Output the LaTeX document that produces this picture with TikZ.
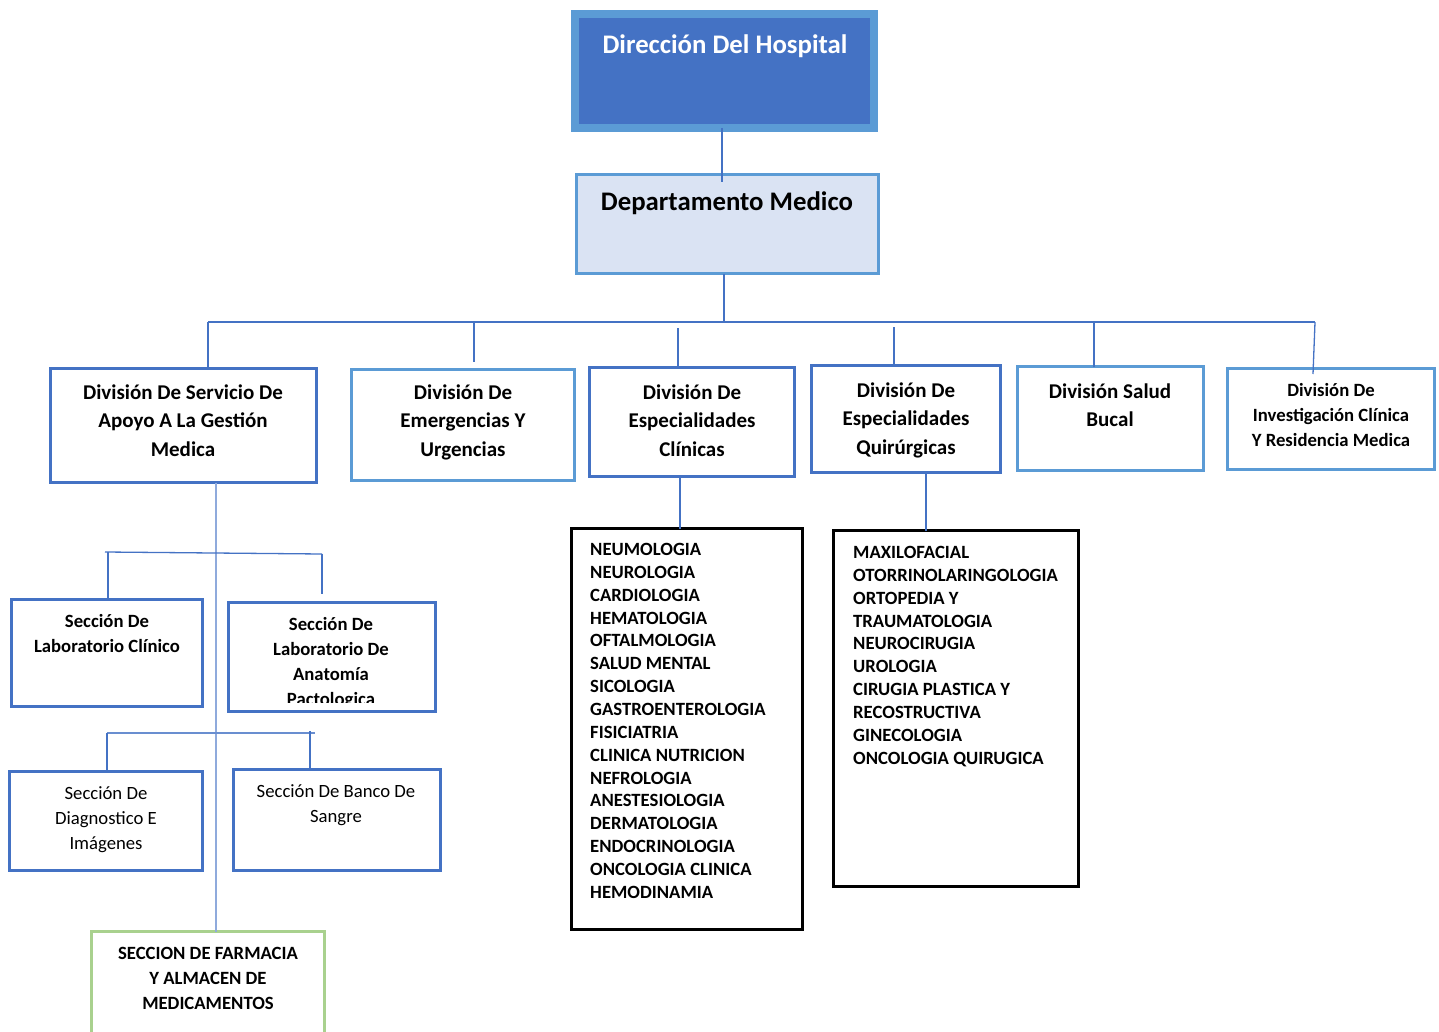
\documentclass[tikz,border=0pt]{standalone}
\usepackage{fontspec}
\setmainfont{Carlito}
\definecolor{darkblue}{HTML}{4472C4}
\definecolor{lightblue}{HTML}{5B9BD5}
\definecolor{paleblue}{HTML}{DAE3F3}
\definecolor{softblue}{HTML}{8FAADC}
\definecolor{leafgreen}{HTML}{A9D18E}
\tikzset{
  dbox/.style={draw=darkblue, line width=2.5pt, inner sep=0pt, outer sep=0pt, anchor=north west},
  lbox/.style={dbox, draw=lightblue},
  gbox/.style={dbox, draw=leafgreen},
  listbox/.style={dbox, draw=black},
  divtext/.style={anchor=north, align=center, inner sep=0pt,
    font=\bfseries\fontsize{21}{28.5}\selectfont},
  sectext/.style={anchor=north, align=center, inner sep=0pt,
    font=\bfseries\fontsize{18.7}{25}\selectfont},
  regtext/.style={sectext, font=\fontsize{18.7}{25}\selectfont},
  listtext/.style={anchor=north west, align=left, inner sep=0pt,
    font=\bfseries\fontsize{18.7}{22.85}\selectfont},
  conn/.style={draw=darkblue, line width=1.3pt},
}
\begin{document}
\begin{tikzpicture}[x=1pt, y=-1pt]
\useasboundingbox (0,0) rectangle (1439,1032);

% top of the chart
\node[dbox, draw=lightblue, fill=darkblue, line width=8pt, minimum width=299pt, minimum height=114pt] (dir) at (575,14) {};
\node[anchor=base, text=white, font=\bfseries\fontsize{26.8}{32}\selectfont] (dir-t) at (725,54) {Dirección Del Hospital};
\node[lbox, fill=paleblue, minimum width=302pt, minimum height=99pt] (dep) at (576.5,174.5) {};
\node[anchor=base, font=\bfseries\fontsize{26.8}{32}\selectfont] (dep-t) at (727,211) {Departamento Medico};

% divisions
\node[dbox, minimum width=266pt, minimum height=114pt] (apoyo) at (50.5,368.5) {};
\node[lbox, minimum width=223pt, minimum height=111pt] (emerg) at (351.5,369.5) {};
\node[dbox, minimum width=205pt, minimum height=109pt] (clin) at (589.5,367.5) {};
\node[dbox, minimum width=189pt, minimum height=107pt] (quir) at (811.5,365.5) {};
\node[lbox, minimum width=186pt, minimum height=104pt] (bucal) at (1017.5,366.5) {};
\node[lbox, minimum width=207pt, minimum height=101pt] (invest) at (1227.5,368.5) {};

\node[divtext] (apoyo-t) at (183,384.3) {División De Servicio De\\Apoyo A La Gestión\\Medica};
\node[divtext] (emerg-t) at (463,384.3) {División De\\Emergencias Y\\Urgencias};
\node[divtext] (clin-t) at (692,384.3) {División De\\Especialidades\\Clínicas};
\node[divtext] (quir-t) at (906,382.3) {División De\\Especialidades\\Quirúrgicas};
\node[divtext] (bucal-t) at (1110,383.3) {División Salud\\Bucal};
\node[sectext] (invest-t) at (1331,383) {División De\\Investigación Clínica\\Y Residencia Medica};

% sections under apoyo
\node[dbox, minimum width=191pt, minimum height=107pt] (labclin) at (11.5,599.5) {};
\node[dbox, minimum width=207pt, minimum height=109pt] (anat) at (228.5,602.5) {};
\node[dbox, minimum width=193pt, minimum height=99pt] (diag) at (9.5,771.5) {};
\node[dbox, minimum width=207pt, minimum height=101pt] (banco) at (233.5,769.5) {};
\node[gbox, minimum width=233pt, minimum height=110pt] (farm) at (91.5,931.5) {};

\node[sectext] (labclin-t) at (107,614) {Sección De\\Laboratorio Clínico};
\begin{scope}
  \clip (228,602) rectangle (436,702);
  \node[sectext] (anat-t) at (331,617) {Sección De\\Laboratorio De\\Anatomía\\Pactologica};
\end{scope}
\node[regtext] (diag-t) at (106,786) {Sección De\\Diagnostico E\\Imágenes};
\node[regtext] (banco-t) at (336,784) {Sección De Banco De\\Sangre};
\node[sectext] (farm-t) at (208,947) {SECCION DE FARMACIA\\Y ALMACEN DE\\MEDICAMENTOS};

% lists of specialities
\node[listbox, minimum width=231pt, minimum height=401pt] (clinlist) at (571.5,528.5) {};
\node[listtext] (clinlist-t) at (590,543.1) {NEUMOLOGIA\\NEUROLOGIA\\CARDIOLOGIA\\HEMATOLOGIA\\OFTALMOLOGIA\\SALUD MENTAL\\SICOLOGIA\\GASTROENTEROLOGIA\\FISICIATRIA\\CLINICA NUTRICION\\NEFROLOGIA\\ANESTESIOLOGIA\\DERMATOLOGIA\\ENDOCRINOLOGIA\\ONCOLOGIA CLINICA\\HEMODINAMIA};
\node[listbox, minimum width=245pt, minimum height=356pt] (quirlist) at (833.5,530.5) {};
\node[listtext] (quirlist-t) at (853,546.1) {MAXILOFACIAL\\OTORRINOLARINGOLOGIA\\ORTOPEDIA Y\\TRAUMATOLOGIA\\NEUROCIRUGIA\\UROLOGIA\\CIRUGIA PLASTICA Y\\RECOSTRUCTIVA\\GINECOLOGIA\\ONCOLOGIA QUIRUGICA};

% connectors
\coordinate (busL) at (208,322);
\coordinate (busR) at (1315,322);
\draw[conn] (722,0 |- dir.south) -- (722,182);
\draw[conn] (724,0 |- dep.south) -- (724,0 |- busL);
\draw[conn] (busL) -- (busR);
\draw[conn] (busL) -- (busL |- apoyo.north);
\draw[conn] (474,0 |- busL) -- (474,362);
\draw[conn] (678,328) -- (678,0 |- clin.north);
\draw[conn] (894,327) -- (894,0 |- quir.north);
\draw[conn] (1094,0 |- busL) -- (1094,0 |- bucal.north);
\draw[conn] (busR) -- (1313,374);
\draw[conn] (680,0 |- clin.south) -- (680,0 |- clinlist.north);
\draw[conn] (926,0 |- quir.south) -- (926,0 |- quirlist.north);

% branch under apoyo
\draw[draw=softblue, line width=2.5pt] (216,0 |- apoyo.south) -- (216,0 |- farm.north);
\coordinate (labL) at (105,552);
\coordinate (labR) at (322,554);
\draw[conn] (labL) -- (labR);
\draw[conn] (108,552) -- (108,0 |- labclin.north);
\draw[conn] (labR) -- (322,594);
\coordinate (imgL) at (107,733);
\coordinate (imgR) at (315,733);
\draw[conn, draw=darkblue!80] (imgL) -- (imgR);
\draw[conn] (imgL) -- (imgL |- diag.north);
\draw[conn] (310,731) -- (310,0 |- banco.north);
\end{tikzpicture}
\end{document}
